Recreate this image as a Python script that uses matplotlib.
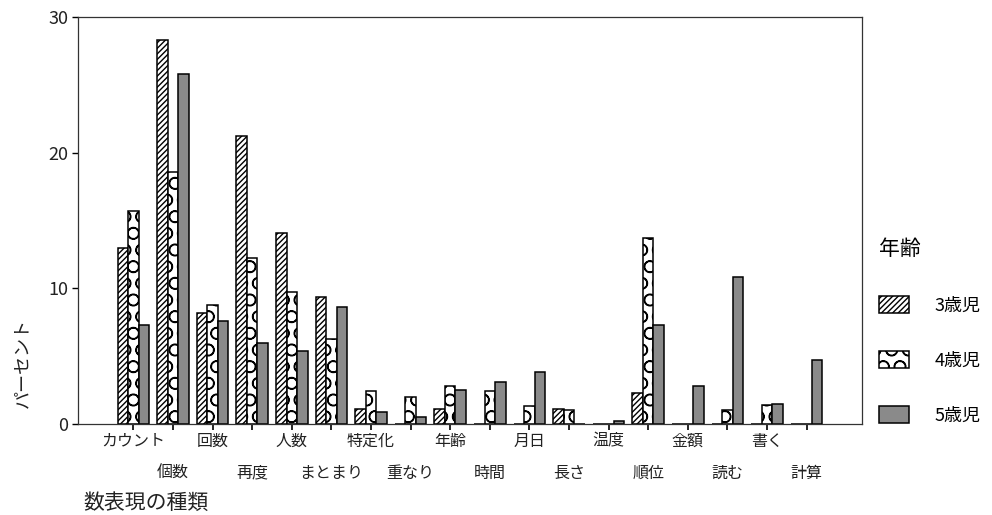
import numpy as np
import matplotlib
matplotlib.use('Agg')
from matplotlib import pyplot as plt

plt.rcParams['font.family'] = ['Noto Sans CJK JP', 'DejaVu Sans']
plt.rcParams['hatch.linewidth'] = 1.0

# Data (percent)
categories = ['カウント', '個数', '回数', '再度', '人数', 'まとまり', '特定化', '重なり', '年齢',
              '時間', '月日', '長さ', '温度', '順位', '金額', '読む', '書く', '計算']
age3 = [13.0, 28.3, 8.2, 21.2, 14.1, 9.35, 1.1, 0.0, 1.1, 0.0, 0.0, 1.1, 0.0, 2.3, 0.0, 0.0, 0.0, 0.0]
age4 = [15.7, 18.6, 8.8, 12.2, 9.7, 6.3, 2.4, 2.0, 2.8, 2.4, 1.3, 1.0, 0.0, 13.7, 0.0, 1.0, 1.4, 0.0]
age5 = [7.3, 25.8, 7.6, 6.0, 5.4, 8.6, 0.9, 0.5, 2.5, 3.1, 3.8, 0.0, 0.2, 7.3, 2.8, 10.8, 1.5, 4.7]
series_labels = ['3歳児', '4歳児', '5歳児']
yticks = [0, 10, 20, 30]

fig = plt.figure(figsize=(9.92, 5.15), dpi=100, facecolor='white')
ax = fig.add_axes([78 / 992, 91 / 515, 784 / 992, 407 / 515])

x = np.arange(len(categories))
w = 0.265
b3 = ax.bar(x - w, age3, w, facecolor='white', edgecolor='black', hatch='//////', linewidth=1.1,
            label=series_labels[0])
b4 = ax.bar(x, age4, w, facecolor='white', edgecolor='black', hatch='O', linewidth=1.1,
            label=series_labels[1])
b5 = ax.bar(x + w, age5, w, facecolor='#8a8a8a', edgecolor='black', linewidth=1.1,
            label=series_labels[2])

ax.set_xlim(-1.4, 18.4)
ax.set_ylim(0, 30)
ax.set_yticks(yticks)
ax.set_yticklabels([str(t) for t in yticks], fontsize=13, color='#222222')
ax.set_xticks(x)
ax.set_xticklabels([])
ax.tick_params(axis='x', direction='out', length=4, width=1.2)
ax.tick_params(axis='y', direction='out', length=4, width=1, pad=3)
for s in ax.spines.values():
    s.set_linewidth(0.9)
    s.set_color('#333333')

# alternating two-row category labels
for i, lab in enumerate(categories):
    off = -12.5 if i % 2 == 0 else -35.5
    ax.annotate(lab, xy=(i, 0), xycoords=('data', 'axes fraction'), xytext=(0, off),
                textcoords='offset points', ha='center', va='center', fontsize=11.5, color='#222222')

fig.text(83 / 992, 1 - 503 / 515, '数表現の種類', fontsize=15, ha='left', va='center', color='#222222')
fig.text(22 / 992, 1 - 363 / 515, 'パーセント', fontsize=13, rotation=90, ha='center', va='center',
         color='#222222')

leg = fig.legend(handles=[b3, b4, b5], labels=series_labels, title='年齢', loc='upper left',
                 bbox_to_anchor=(866 / 992, 1 - 225 / 515), frameon=False, fontsize=13,
                 title_fontsize=15, handlelength=1.7, handleheight=1.1, labelspacing=2.0,
                 handletextpad=1.4, borderpad=0.2)
leg._legend_box.align = 'left'

fig.savefig('out.png', dpi=100, facecolor='white')
